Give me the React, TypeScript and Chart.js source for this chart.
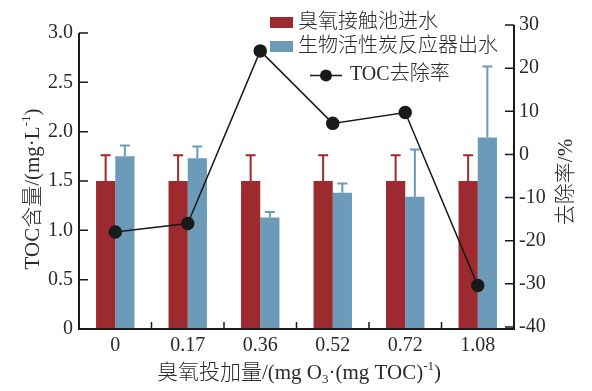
import React, { useEffect, useRef } from 'react';
import { Chart, registerables } from 'chart.js';

Chart.register(...registerables);

// ---- data ----
const categories = ['0', '0.17', '0.36', '0.52', '0.72', '1.08'];
const inletTOC = [1.5, 1.5, 1.5, 1.5, 1.5, 1.5];
const inletTOCUpper = [1.76, 1.76, 1.76, 1.76, 1.76, 1.76];
const outletTOC = [1.75, 1.73, 1.13, 1.38, 1.34, 1.94];
const outletTOCUpper = [1.86, 1.85, 1.185, 1.475, 1.82, 2.66];
const removalRate = [-18, -16, 24, 7.2, 9.7, -30.4];
const leftTicks = [0, 0.5, 1, 1.5, 2, 2.5, 3];
const rightTicks = [-40, -30, -20, -10, 0, 10, 20, 30];
const seriesNames = ['臭氧接触池进水', '生物活性炭反应器出水', 'TOC去除率'];

const RED = '#9d2a2e';
const BLUE = '#6b9bb9';
const BLACK = '#1a1a1a';
const FONT = "'Liberation Serif', 'Noto Sans CJK SC', serif";
const TEXT = '#2a2a2a';

type Seg = { t: string; k?: 'sup' | 'sub' };

function drawRich(ctx: CanvasRenderingContext2D, segs: Seg[], cx: number, cy: number, size: number) {
  const small = Math.round(size * 0.62);
  const fontOf = (s: Seg) => `300 ${s.k ? small : size}px ${FONT}`;
  let total = 0;
  const widths = segs.map((s) => {
    ctx.font = fontOf(s);
    const w = ctx.measureText(s.t).width;
    total += w;
    return w;
  });
  let x = cx - total / 2;
  const base = cy + size * 0.36;
  ctx.textBaseline = 'alphabetic';
  ctx.textAlign = 'left';
  segs.forEach((s, i) => {
    ctx.font = fontOf(s);
    let y = base;
    if (s.k === 'sup') y = base - size * 0.42;
    if (s.k === 'sub') y = base + size * 0.22;
    ctx.fillText(s.t, x, y);
    x += widths[i];
  });
}

const upperByDataset: Record<number, number[]> = { 1: inletTOCUpper, 2: outletTOCUpper };

const errorBarPlugin = {
  id: 'errorBars',
  afterDatasetDraw(chart: any, args: any) {
    const up = upperByDataset[args.index];
    if (!up) return;
    const ctx = chart.ctx;
    const ys = chart.scales.y;
    const color = chart.data.datasets[args.index].backgroundColor;
    ctx.save();
    ctx.strokeStyle = color;
    ctx.lineWidth = 2;
    args.meta.data.forEach((el: any, i: number) => {
      const yt = ys.getPixelForValue(up[i]);
      ctx.beginPath();
      ctx.moveTo(el.x, el.y);
      ctx.lineTo(el.x, yt);
      ctx.moveTo(el.x - 5, yt);
      ctx.lineTo(el.x + 5, yt);
      ctx.stroke();
    });
    ctx.restore();
  },
};

const decorPlugin = {
  id: 'decor',
  afterDraw(chart: any) {
    const ctx: CanvasRenderingContext2D = chart.ctx;
    const { left, right, bottom } = chart.chartArea;
    const xs = chart.scales.x;
    const yl = chart.scales.y;
    const yr = chart.scales.yR;
    ctx.save();
    ctx.strokeStyle = BLACK;
    ctx.lineWidth = 2;
    ctx.beginPath();
    ctx.moveTo(left, yl.getPixelForValue(leftTicks[leftTicks.length - 1]));
    ctx.lineTo(left, bottom);
    ctx.moveTo(left - 1, bottom);
    ctx.lineTo(right + 1, bottom);
    ctx.moveTo(right, yr.getPixelForValue(rightTicks[rightTicks.length - 1]));
    ctx.lineTo(right, bottom);
    ctx.stroke();
    ctx.lineWidth = 1.5;
    ctx.beginPath();
    leftTicks.forEach((v) => {
      const y = yl.getPixelForValue(v);
      ctx.moveTo(left, y);
      ctx.lineTo(left + 9, y);
    });
    rightTicks.forEach((v) => {
      const y = yr.getPixelForValue(v);
      ctx.moveTo(right - 9, y);
      ctx.lineTo(right, y);
    });
    for (let i = 1; i < categories.length; i++) {
      const x = (xs.getPixelForValue(i - 1) + xs.getPixelForValue(i)) / 2;
      ctx.moveTo(x, bottom);
      ctx.lineTo(x, bottom - 7);
    }
    ctx.stroke();

    // legend
    ctx.fillStyle = RED;
    ctx.fillRect(270, 17, 23, 11);
    ctx.fillStyle = BLUE;
    ctx.fillRect(270, 41, 23, 11);
    ctx.strokeStyle = BLACK;
    ctx.lineWidth = 1.5;
    ctx.beginPath();
    ctx.moveTo(310, 75.5);
    ctx.lineTo(342, 75.5);
    ctx.stroke();
    ctx.fillStyle = BLACK;
    ctx.beginPath();
    ctx.arc(326, 75.5, 6, 0, Math.PI * 2);
    ctx.fill();
    ctx.fillStyle = TEXT;
    ctx.font = `300 20px ${FONT}`;
    ctx.textAlign = 'left';
    ctx.textBaseline = 'middle';
    ctx.fillText(seriesNames[0], 298, 23);
    ctx.fillText(seriesNames[1], 298, 47);
    ctx.fillText(seriesNames[2], 350, 75);

    // axis titles
    ctx.fillStyle = TEXT;
    drawRich(
      ctx,
      [{ t: '臭氧投加量/(mg O' }, { t: '3', k: 'sub' }, { t: '·(mg TOC)' }, { t: '-1', k: 'sup' }, { t: ')' }],
      299,
      371,
      21
    );
    ctx.save();
    ctx.translate(31, 189);
    ctx.rotate(-Math.PI / 2);
    drawRich(ctx, [{ t: 'TOC含量/(mg·L' }, { t: '-1', k: 'sup' }, { t: ')' }], 0, 0, 21);
    ctx.restore();
    ctx.save();
    ctx.translate(564, 182);
    ctx.rotate(-Math.PI / 2);
    drawRich(ctx, [{ t: '去除率/%' }], 0, 0, 21);
    ctx.restore();
    ctx.restore();
  },
};

export default function App() {
  const ref = useRef<HTMLCanvasElement | null>(null);
  useEffect(() => {
    document.body.style.margin = '0';
    const canvas = ref.current!;
    const chart = new Chart(canvas, {
      type: 'bar',
      data: {
        labels: categories,
        datasets: [
          {
            type: 'line',
            label: seriesNames[2],
            data: removalRate,
            yAxisID: 'yR',
            borderColor: BLACK,
            borderWidth: 1.5,
            pointRadius: 6,
            pointBackgroundColor: BLACK,
            pointBorderColor: BLACK,
            tension: 0,
            order: 0,
          } as any,
          {
            label: seriesNames[0],
            data: inletTOC,
            backgroundColor: RED,
            yAxisID: 'y',
            order: 1,
            categoryPercentage: 0.53,
            barPercentage: 1.0,
          },
          {
            label: seriesNames[1],
            data: outletTOC,
            backgroundColor: BLUE,
            yAxisID: 'y',
            order: 2,
            categoryPercentage: 0.53,
            barPercentage: 1.0,
          },
        ],
      },
      options: {
        responsive: false,
        animation: false,
        layout: { padding: { top: 25, left: 0, right: 0, bottom: 0 } },
        plugins: { legend: { display: false }, tooltip: { enabled: false } },
        scales: {
          x: {
            type: 'category',
            offset: true,
            grid: { display: false, drawTicks: false },
            border: { display: false },
            ticks: { color: TEXT, font: { family: FONT, size: 20 }, padding: 5, maxRotation: 0 },
            afterFit: (s: any) => {
              s.height = 62;
            },
          },
          y: {
            position: 'left',
            min: 0,
            max: 3.081,
            grid: { display: false, drawTicks: false },
            border: { display: false },
            afterBuildTicks: (s: any) => {
              s.ticks = leftTicks.map((v) => ({ value: v }));
            },
            ticks: {
              color: TEXT,
              font: { family: FONT, size: 20 },
              padding: 6,
              callback: (v: any) => (Number(v) === 0 ? '0' : Number(v).toFixed(1)),
            },
            afterFit: (s: any) => {
              s.width = 79;
            },
          },
          yR: {
            position: 'right',
            min: -40.46,
            max: 30,
            grid: { display: false, drawTicks: false },
            border: { display: false },
            afterBuildTicks: (s: any) => {
              s.ticks = rightTicks.map((v) => ({ value: v }));
            },
            ticks: {
              color: TEXT,
              font: { family: FONT, size: 20 },
              padding: 5,
              callback: (v: any) => String(v),
            },
            afterFit: (s: any) => {
              s.width = 78;
            },
          },
        },
      },
      plugins: [errorBarPlugin, decorPlugin],
    } as any);
    return () => chart.destroy();
  }, []);
  return <canvas ref={ref} width={592} height={391} style={{ display: 'block' }} />;
}
